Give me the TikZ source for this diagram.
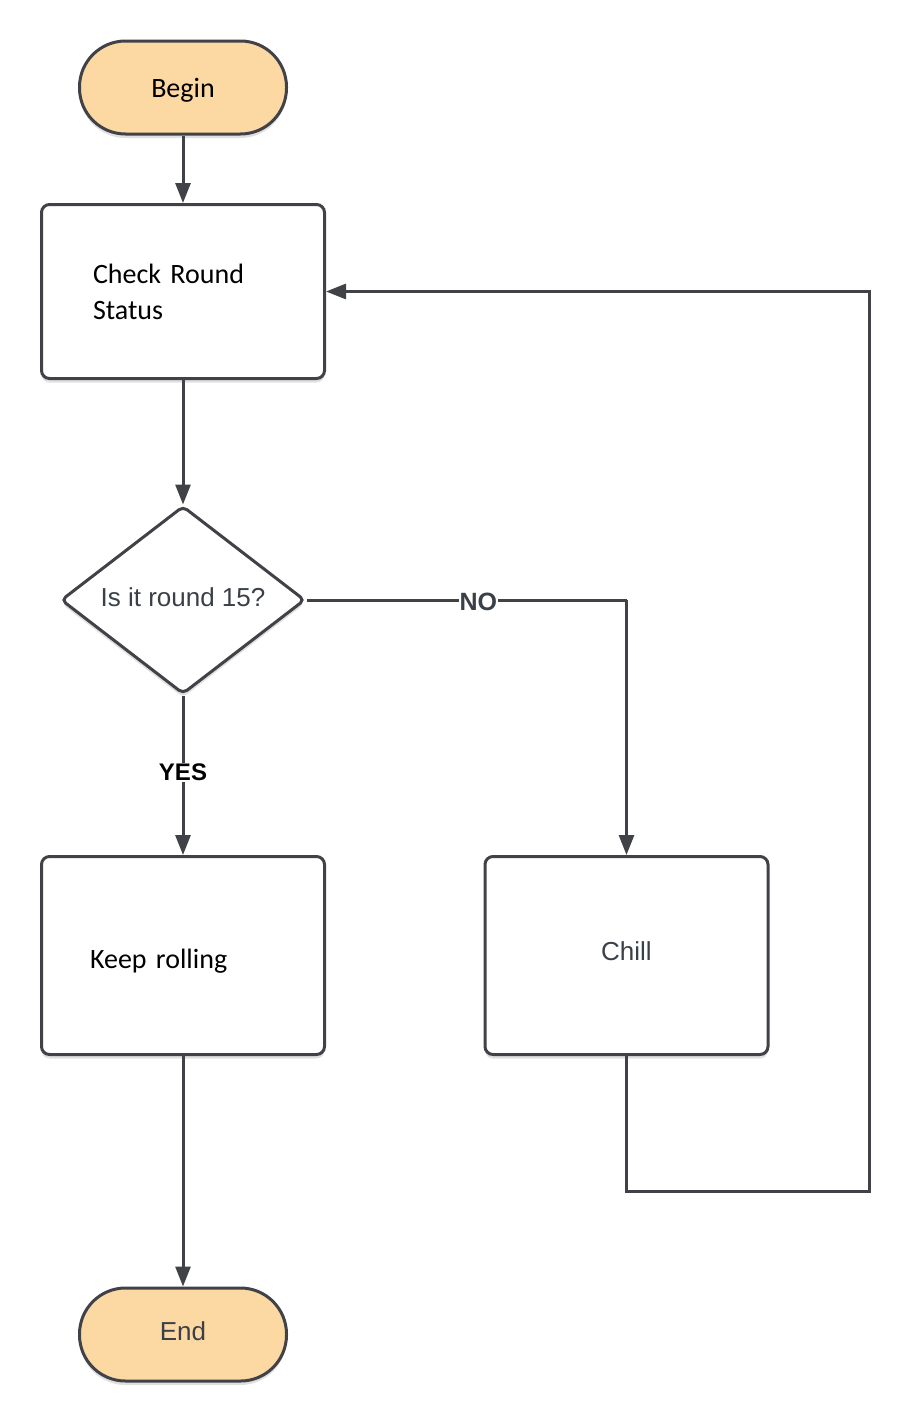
\documentclass[tikz,border=0pt]{standalone}
\usepackage{fontspec}
\setmainfont{Carlito}
\newfontfamily\arialfont{Liberation Sans}
\usetikzlibrary{shapes.geometric,arrows.meta,shadows}
\definecolor{linegray}{RGB}{64,66,72}
\definecolor{txtgray}{RGB}{58,64,72}
\definecolor{termfill}{RGB}{252,216,162}
\newcommand{\lowered}[2]{\raisebox{-#1}[0pt][0pt]{#2}}
\tikzset{
  softshadow/.style={drop shadow={shadow xshift=0pt,shadow yshift=-4pt,opacity=0.12,fill=black}},
  terminal/.style={draw=linegray,line width=3pt,fill=termfill,rounded corners=46pt,
    minimum width=207pt,minimum height=93pt,inner sep=0pt,softshadow},
  procbox/.style={draw=linegray,line width=3pt,fill=white,rounded corners=8pt,
    minimum width=283pt,inner sep=0pt,softshadow},
  decision/.style={draw=linegray,line width=3pt,fill=white,diamond,aspect=1.3,rounded corners=5pt,
    minimum width=244pt,minimum height=188pt,inner sep=0pt,softshadow},
  conn/.style={draw=linegray,line width=3pt},
  arr/.style={conn,-{Triangle[length=20pt,width=15pt]}},
  edgelabel/.style={fill=white,inner sep=1pt,font=\arialfont\bfseries\fontsize{25}{30}\selectfont}
}
\begin{document}
\begin{tikzpicture}[x=1pt,y=-1pt]
\useasboundingbox (0,0) rectangle (911,1424);
\node[terminal,font=\fontsize{28}{34}\selectfont] (begin) at (183,87.5) {\lowered{9.5pt}{Begin}};
\node[procbox,minimum height=174pt,text width=180pt,inner xsep=51.5pt,align=left,
  font=\fontsize{28}{36}\selectfont] (check) at (183,291.5) {Check Round\\Status};
\node[decision,font=\arialfont\fontsize{26}{30}\selectfont,text=txtgray] (dia) at (183,600) {\lowered{6pt}{Is it round 15?}};
\node[procbox,minimum height=198pt,text width=186pt,inner xsep=48.5pt,align=left,
  font=\fontsize{28}{34}\selectfont] (keep) at (183,955.5) {\lowered{12.5pt}{Keep rolling}};
\node[procbox,minimum height=198pt,font=\arialfont\fontsize{26}{30}\selectfont,text=txtgray] (chill) at (626.5,955.5) {\lowered{5pt}{Chill}};
\node[terminal,font=\arialfont\fontsize{26}{30}\selectfont,text=txtgray] (end) at (183,1334.5) {\lowered{6pt}{End}};
\coordinate (noturn) at (626.5,600);
\coordinate (loopcorner) at (869,1191);
\draw[arr] (begin.south) -- (check.north);
\draw[arr] (check.south) -- (dia.north);
\draw[conn] (dia.east) -- node[edgelabel,pos=0.537,text=txtgray,yshift=-2pt]{NO} (noturn);
\draw[arr] (noturn) -- (chill.north);
\draw[arr] (dia.south) -- node[edgelabel,pos=0.48,font=\arialfont\bfseries\fontsize{24}{28}\selectfont,text=black]{YES} (keep.north);
\draw[arr] (keep.south) -- (end.north);
\draw[arr,line join=miter] (chill.south) |- (loopcorner) |- (check.east);
\end{tikzpicture}
\end{document}
